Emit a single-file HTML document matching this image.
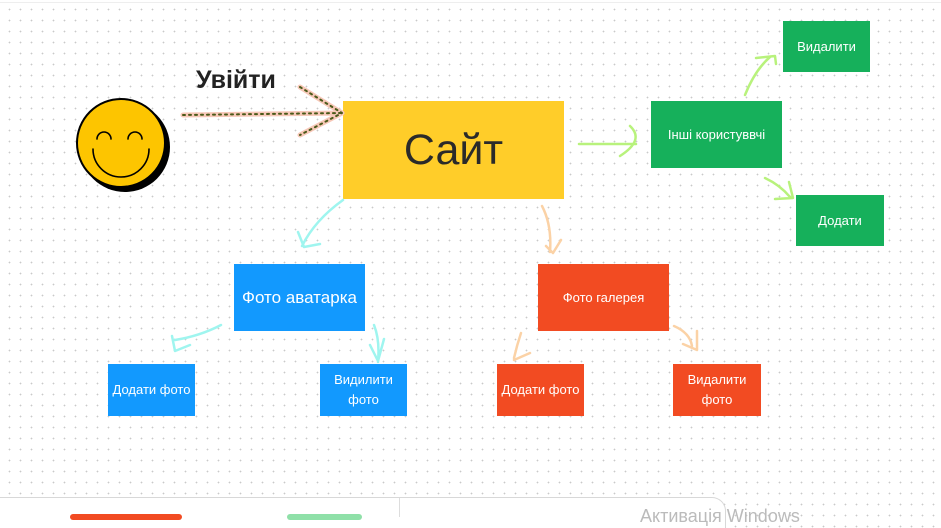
<!DOCTYPE html>
<html><head><meta charset="utf-8"><style>
html,body{margin:0;padding:0}
body{width:941px;height:517px;position:relative;overflow:hidden;background:#fff;
background-image:radial-gradient(circle,#c9c9c9 0.7px,transparent 1px);background-size:11px 11px;background-position:4px 4px;
font-family:"Liberation Sans","DejaVu Sans",sans-serif}
.b{position:absolute;display:flex;align-items:center;justify-content:center;text-align:center;color:#fff;font-size:13px;line-height:20px}
.g{background:#16b05b}.bl{background:#1299fe}.r{background:#f24b22}
</style></head><body>
<div style="position:absolute;left:0;top:2px;width:941px;height:1px;background:#eee"></div>
<div class="b" style="left:343px;top:101px;width:221px;height:98px;background:#ffcd29;color:#2a2a2a;font-size:43px">Сайт</div>
<div class="b g" style="left:651px;top:101px;width:131px;height:67px">Інші користуввчі</div>
<div class="b g" style="left:783px;top:21px;width:87px;height:51px">Видалити</div>
<div class="b g" style="left:796px;top:195px;width:88px;height:51px">Додати</div>
<div class="b bl" style="left:234px;top:264px;width:131px;height:67px;font-size:17px">Фото аватарка</div>
<div class="b bl" style="left:108px;top:364px;width:87px;height:52px">Додати фото</div>
<div class="b bl" style="left:320px;top:364px;width:87px;height:52px">Видилити<br>фото</div>
<div class="b r" style="left:538px;top:264px;width:131px;height:67px">Фото галерея</div>
<div class="b r" style="left:497px;top:364px;width:87px;height:52px">Додати фото</div>
<div class="b r" style="left:673px;top:364px;width:88px;height:52px">Видалити<br>фото</div>
<div style="position:absolute;left:196px;top:66px;font-size:25px;font-weight:bold;color:#222">Увійти</div>
<svg width="941" height="517" style="position:absolute;left:0;top:0" fill="none" stroke-linecap="round" stroke-linejoin="round">
<circle cx="125" cy="147" r="45" fill="#000"/>
<circle cx="121" cy="143" r="44" fill="#fdc500" stroke="#000" stroke-width="2"/>
<path d="M97 139a7 7 0 0 1 14 0M128 139a7 7 0 0 1 14 0M93 149a28 28 0 0 0 56 0" stroke="#000" stroke-width="1.6"/>
<g stroke="#f7c8b8" stroke-width="5"><path d="M183 115L342 113M300 87L342 113L300 135"/></g>
<g stroke="#4a5a1a" stroke-width="2" stroke-dasharray="2 4"><path d="M183 115L342 113M300 87L342 113L300 135"/></g>
<g stroke="#b8f27c" stroke-width="2.5"><path d="M579 144L636 144M630 126Q645 140 620 156M745 95Q755 70 770 57M756 58L775 56L776 64M765 178Q780 185 790 197M775 199L793 198L789 182"/></g>
<g stroke="#9ff5ef" stroke-width="2.5"><path d="M343 200Q315 220 302 246M298 232L304 247L320 244M221 325Q200 336 175 340M172 336L175 351L190 345M374 325Q380 340 378 362M370 345L378 361L384 339"/></g>
<g stroke="#fbd2a6" stroke-width="2.5"><path d="M542 206Q552 225 550 252M546 246L553 253L561 240M521 333Q517 345 514 358M514 360L530 353M674 326Q690 333 692 346M683 344L697 350L697 331"/></g>
</svg>
<div style="position:absolute;left:0;top:497px;width:725px;height:30px;background:#fff;border-top:1px solid #d8d8d8;border-right:1px solid #d8d8d8;border-top-right-radius:14px"></div>
<div style="position:absolute;left:399px;top:498px;width:1px;height:19px;background:#ddd"></div>
<div style="position:absolute;left:70px;top:514px;width:112px;height:6px;background:#f24b22;border-radius:3px"></div>
<div style="position:absolute;left:287px;top:514px;width:75px;height:6px;background:#8fe0a8;border-radius:3px"></div>
<div style="position:absolute;left:640px;top:506px;font-size:18px;color:#bbb">Активація Windows</div>
</body></html>
